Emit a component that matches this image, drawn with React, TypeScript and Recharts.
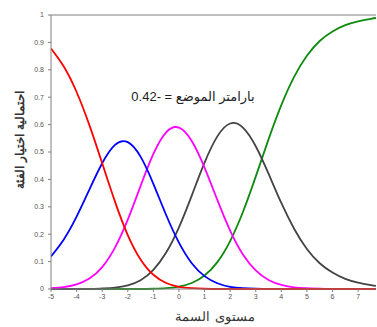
import { LineChart, Line, XAxis, YAxis, ReferenceLine } from "recharts";

// trait level (x axis)
const theta = [
  -5, -4.5, -4, -3.5, -3, -2.5, -2, -1.5, -1, -0.5, 0, 0.5, 1, 1.5, 2, 2.5, 3,
  3.5, 4, 4.5, 5, 5.5, 6, 6.5, 7, 7.5, 7.7,
];

// category probabilities
const cat0 = [
  0.878, 0.812, 0.719, 0.598, 0.459, 0.319, 0.197, 0.108, 0.052, 0.022, 0.008,
  0.003, 0.001, 0, 0, 0, 0, 0, 0, 0, 0, 0, 0, 0, 0, 0, 0,
];
const cat1 = [
  0.119, 0.181, 0.264, 0.363, 0.459, 0.526, 0.536, 0.483, 0.384, 0.27, 0.169,
  0.094, 0.047, 0.021, 0.008, 0.003, 0.001, 0, 0, 0, 0, 0, 0, 0, 0, 0, 0,
];
const cat2 = [
  0.003, 0.007, 0.017, 0.038, 0.08, 0.151, 0.253, 0.376, 0.493, 0.572, 0.589,
  0.54, 0.443, 0.325, 0.213, 0.126, 0.068, 0.033, 0.015, 0.006, 0.003, 0.001, 0,
  0, 0, 0, 0,
];
const cat3 = [
  0, 0, 0, 0, 0.002, 0.005, 0.013, 0.032, 0.07, 0.133, 0.225, 0.341, 0.461,
  0.557, 0.604, 0.589, 0.521, 0.421, 0.314, 0.22, 0.146, 0.094, 0.06, 0.037,
  0.023, 0.014, 0.011,
];
const cat4 = [
  0, 0, 0, 0, 0, 0, 0, 0, 0.001, 0.003, 0.009, 0.022, 0.049, 0.098, 0.175,
  0.281, 0.41, 0.546, 0.671, 0.774, 0.851, 0.905, 0.94, 0.963, 0.977, 0.986,
  0.989,
];

const xTicks = [-5, -4, -3, -2, -1, 0, 1, 2, 3, 4, 5, 6, 7];
const yTicks = [0, 0.1, 0.2, 0.3, 0.4, 0.5, 0.6, 0.7, 0.8, 0.9, 1];

const data = theta.map((t, i) => ({
  t,
  c0: cat0[i],
  c1: cat1[i],
  c2: cat2[i],
  c3: cat3[i],
  c4: cat4[i],
}));

const tickStyle = { fontSize: 7, fill: "#555", fontFamily: "Arial, 'Liberation Sans'" };

export default function App() {
  return (
    <div
      style={{
        position: "absolute",
        left: 0,
        top: 0,
        width: 377,
        height: 327,
        background: "#fff",
        overflow: "hidden",
      }}
    >
      <LineChart
        width={377}
        height={327}
        data={data}
        margin={{ top: 15, right: 1, bottom: 18, left: 0 }}
      >
        <XAxis
          dataKey="t"
          type="number"
          domain={[-5, 7.7]}
          ticks={xTicks}
          height={20}
          stroke="#808080"
          tickSize={3}
          tickMargin={2}
          tick={tickStyle}
          allowDataOverflow
        />
        <YAxis
          type="number"
          domain={[0, 1]}
          ticks={yTicks}
          width={51}
          stroke="#808080"
          tickSize={3}
          tickMargin={4}
          tick={tickStyle}
        />
        <ReferenceLine y={1} stroke="#808080" strokeWidth={1.2} />
        <Line dataKey="c4" type="natural" stroke="#0f8a0f" strokeWidth={1.8} dot={false} isAnimationActive={false} />
        <Line dataKey="c3" type="natural" stroke="#444444" strokeWidth={1.8} dot={false} isAnimationActive={false} />
        <Line dataKey="c2" type="natural" stroke="#ff00ff" strokeWidth={1.8} dot={false} isAnimationActive={false} />
        <Line dataKey="c1" type="natural" stroke="#0000ff" strokeWidth={1.8} dot={false} isAnimationActive={false} />
        <Line dataKey="c0" type="natural" stroke="#ff0000" strokeWidth={1.8} dot={false} isAnimationActive={false} />
      </LineChart>
      <div
        dir="rtl"
        style={{
          position: "absolute",
          left: 193,
          top: 96,
          transform: "translate(-50%, -50%)",
          whiteSpace: "nowrap",
          fontSize: 13,
          fontFamily: "Arial, 'DejaVu Sans'",
          color: "#222",
        }}
      >
        بارامتر الموضع = -0.42
      </div>
      <div
        dir="rtl"
        style={{
          position: "absolute",
          left: 20,
          top: 140,
          transform: "translate(-50%, -50%) rotate(-90deg)",
          whiteSpace: "nowrap",
          fontSize: 12,
          fontWeight: "bold",
          fontFamily: "'DejaVu Serif', serif",
          color: "#333",
        }}
      >
        احتمالية اختيار الفئة
      </div>
      <div
        dir="rtl"
        style={{
          position: "absolute",
          left: 215,
          top: 316,
          transform: "translate(-50%, -50%)",
          whiteSpace: "nowrap",
          fontSize: 13,
          fontFamily: "'DejaVu Serif', serif",
          color: "#333",
        }}
      >
        مستوى السمة
      </div>
    </div>
  );
}
